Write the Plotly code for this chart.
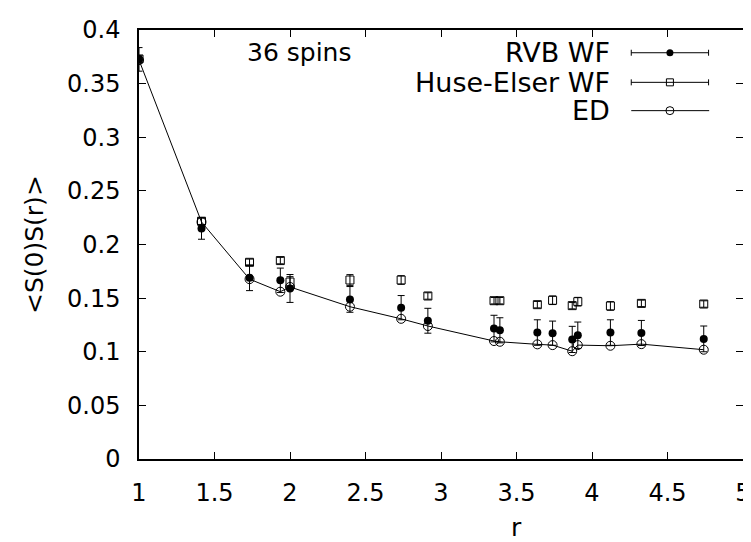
import plotly.graph_objects as go

# ---- data ----
r_vals = [1.000, 1.414, 1.732, 1.936, 2.000, 2.397, 2.736, 2.913, 3.351, 3.390,
          3.638, 3.739, 3.869, 3.906, 4.122, 4.327, 4.740]
rvb_vals = [0.3726, 0.2149, 0.1690, 0.1666, 0.1590, 0.1488, 0.1411, 0.1289, 0.1216, 0.1200,
            0.1179, 0.1173, 0.1115, 0.1154, 0.1179, 0.1175, 0.1120]
rvb_err = [0.011, 0.010, 0.012, 0.0114, 0.013, 0.012, 0.0113, 0.0116, 0.0124, 0.0117,
           0.0119, 0.0113, 0.0122, 0.0123, 0.0119, 0.0117, 0.012]
he_vals = [0.3730, 0.2217, 0.1834, 0.1850, 0.1650, 0.1669, 0.1669, 0.1520, 0.1476, 0.1476,
           0.1439, 0.1480, 0.1430, 0.1467, 0.1427, 0.1451, 0.1445]
he_err = [0.003, 0.003, 0.003, 0.003, 0.005, 0.005, 0.004, 0.003, 0.003, 0.003,
          0.003, 0.004, 0.003, 0.004, 0.004, 0.003, 0.003]
ed_vals = [0.3720, 0.2210, 0.1677, 0.1560, 0.1604, 0.1420, 0.1307, 0.1240, 0.1100, 0.1093,
           0.1069, 0.1062, 0.1005, 0.1062, 0.1056, 0.1071, 0.1019]

series_names = ["RVB WF", "Huse-Elser WF", "ED"]
x_ticks = [1, 1.5, 2, 2.5, 3, 3.5, 4, 4.5, 5]
y_ticks = [0, 0.05, 0.1, 0.15, 0.2, 0.25, 0.3, 0.35, 0.4]

FONT = "DejaVu Sans"
BLACK = "black"

fig = go.Figure()

fig.add_trace(go.Scatter(
    x=r_vals, y=rvb_vals, mode="markers", name=series_names[0],
    marker=dict(symbol="circle", size=8, color=BLACK),
    error_y=dict(type="data", array=rvb_err, color=BLACK, thickness=1, width=3.5),
    showlegend=False))
fig.add_trace(go.Scatter(
    x=r_vals, y=he_vals, mode="markers", name=series_names[1],
    marker=dict(symbol="square-open", size=8, color=BLACK, line=dict(width=1, color=BLACK)),
    error_y=dict(type="data", array=he_err, color=BLACK, thickness=1, width=3.5),
    showlegend=False))
fig.add_trace(go.Scatter(
    x=r_vals, y=ed_vals, mode="lines+markers", name=series_names[2],
    line=dict(color=BLACK, width=1),
    marker=dict(symbol="circle-open", size=9, color=BLACK, line=dict(width=1, color=BLACK)),
    showlegend=False))

# ---- gnuplot-style key (text left, sample right) on an overlay axis ----
key_x0, key_xc, key_x1 = 0.815, 0.879, 0.944
key_text_x = 0.783
key_rows = [0.947, 0.878, 0.812]

fig.add_trace(go.Scatter(
    x=[key_xc], y=[key_rows[0]], mode="markers", xaxis="x2", yaxis="y2",
    marker=dict(symbol="circle", size=7, color=BLACK),
    error_x=dict(type="data", array=[key_xc - key_x0], color=BLACK, thickness=1, width=3),
    showlegend=False, hoverinfo="skip"))
fig.add_trace(go.Scatter(
    x=[key_xc], y=[key_rows[1]], mode="markers", xaxis="x2", yaxis="y2",
    marker=dict(symbol="square-open", size=7, color=BLACK, line=dict(width=1, color=BLACK)),
    error_x=dict(type="data", array=[key_xc - key_x0], color=BLACK, thickness=1, width=3),
    showlegend=False, hoverinfo="skip"))
fig.add_trace(go.Scatter(
    x=[key_x0, key_x1], y=[key_rows[2], key_rows[2]], mode="lines", xaxis="x2", yaxis="y2",
    line=dict(color=BLACK, width=1), showlegend=False, hoverinfo="skip"))
fig.add_trace(go.Scatter(
    x=[key_xc], y=[key_rows[2]], mode="markers", xaxis="x2", yaxis="y2",
    marker=dict(symbol="circle-open", size=8, color=BLACK, line=dict(width=1, color=BLACK)),
    showlegend=False, hoverinfo="skip"))

annotations = []
for name, yy in zip(series_names, key_rows):
    annotations.append(dict(text=name, x=key_text_x, y=yy, xref="paper", yref="paper",
                            xanchor="right", yanchor="middle", showarrow=False,
                            font=dict(family=FONT, size=27, color=BLACK)))
annotations.append(dict(text="36 spins", x=0.175, y=0.947, xref="paper", yref="paper",
                        xanchor="left", yanchor="middle", showarrow=False,
                        font=dict(family=FONT, size=25, color=BLACK)))
annotations.append(dict(text="&lt;S(0)S(r)&gt;", x=-0.173, y=0.5, xref="paper", yref="paper",
                        xanchor="center", yanchor="middle", textangle=-90, showarrow=False,
                        font=dict(family=FONT, size=25, color=BLACK)))
annotations.append(dict(text="r", x=3.5, y=-0.16, xref="x", yref="paper",
                        xanchor="center", yanchor="middle", showarrow=False,
                        font=dict(family=FONT, size=25, color=BLACK)))

axis_common = dict(showgrid=False, zeroline=False, showline=True, linecolor=BLACK,
                   linewidth=1.5, mirror="ticks", ticks="inside", ticklen=7,
                   tickcolor=BLACK, tickwidth=1,
                   tickfont=dict(family=FONT, size=24, color=BLACK))

fig.update_layout(
    width=751, height=542,
    margin=dict(l=131, r=8, t=15, b=91),
    paper_bgcolor="white", plot_bgcolor="white",
    xaxis=dict(range=[1, 5], tickvals=x_ticks, ticklabelstandoff=11, **axis_common),
    yaxis=dict(range=[0, 0.4], tickvals=y_ticks, ticklabelstandoff=12, **axis_common),
    xaxis2=dict(overlaying="x", range=[0, 1], visible=False),
    yaxis2=dict(overlaying="y", range=[0, 1], visible=False),
    annotations=annotations,
    showlegend=False,
)

fig.write_html("out.html")
